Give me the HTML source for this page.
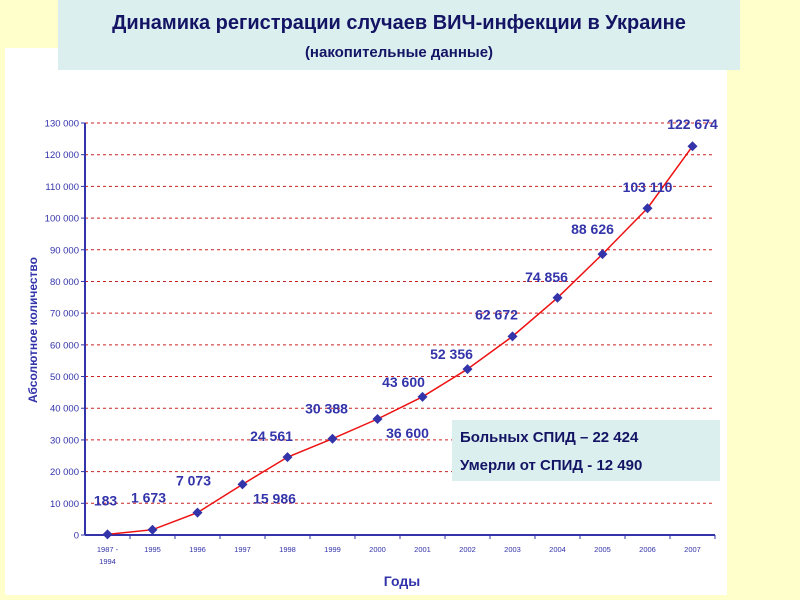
<!DOCTYPE html>
<html><head><meta charset="utf-8"><style>
body{margin:0;width:800px;height:600px;background:#ffffcc;overflow:hidden;font-family:"Liberation Sans",sans-serif;position:relative}
#panel{position:absolute;left:5px;top:48px;width:722px;height:547px;background:#fff}
#title{position:absolute;left:58px;top:0;width:682px;height:70px;background:#dcefef;text-align:center;color:#141464;font-weight:bold}
#t1{font-size:20px;position:absolute;top:12px;left:0;width:100%}
#t2{font-size:15px;position:absolute;top:44px;left:0;width:100%}
#box{position:absolute;left:452px;top:420px;width:268px;height:61px;background:#dcefef;color:#141464;font-weight:bold;font-size:15px}
svg{position:absolute;left:0;top:0}
</style></head><body>
<div id="panel"></div>
<div id="title"><div id="t1">Динамика регистрации случаев ВИЧ-инфекции в Украине</div><div id="t2">(накопительные данные)</div></div>
<svg id="chart" width="800" height="600"></svg>
<div id="box"><div style="position:absolute;left:8px;top:9px">Больных СПИД – 22 424</div><div style="position:absolute;left:8px;top:37px">Умерли от СПИД - 12 490</div></div>
<script>
const categories=["1987 -|1994","1995","1996","1997","1998","1999","2000","2001","2002","2003","2004","2005","2006","2007"];
const values=[183,1673,7073,15986,24561,30388,36600,43600,52356,62672,74856,88626,103110,122674];
const valueLabels=["183","1 673","7 073","15 986","24 561","30 388","36 600","43 600","52 356","62 672","74 856","88 626","103 110","122 674"];
const yTicks=[0,10000,20000,30000,40000,50000,60000,70000,80000,90000,100000,110000,120000,130000];
const labelOffX=[-2,-4,-4,32,-16,-6,30,-19,-16,-16,-11,-10,0,0];
const labelOffY=[-29,-27,-27,19,-16,-25,19,-10,-10,-17,-16,-20,-16,-17];
const svg=document.getElementById('chart');const NS="http://www.w3.org/2000/svg";
const X0=85,X1=715,Y0=535,Y1=123,step=(X1-X0)/categories.length;
const xs=i=>X0+step*(i+0.5);const ys=v=>Y0-(v/130000)*(Y0-Y1);
function mk(t,a,txt){const e=document.createElementNS(NS,t);for(const k in a)e.setAttribute(k,a[k]);if(txt!==undefined)e.textContent=txt;svg.appendChild(e);return e;}
yTicks.forEach(v=>{const y=ys(v);
if(v>0){const g=mk('line',{x1:X0,x2:X1,y1:y,y2:y,stroke:'#cc2222','stroke-width':1,'stroke-dasharray':'3,3'});

}
mk('line',{x1:X0-4,x2:X0,y1:y,y2:y,stroke:'#3333aa'});
const t=mk('text',{x:X0-6,y:y+3.5,'text-anchor':'end','font-size':9.5,fill:'#3333aa','font-family':'Liberation Sans'},v===0?'0':(v/1000)+' 000');

});
mk('line',{x1:X0,x2:X0,y1:Y1,y2:Y0,stroke:'#3333aa','stroke-width':2});
mk('line',{x1:X0,x2:X1,y1:Y0,y2:Y0,stroke:'#3333aa','stroke-width':2});
categories.forEach((c,i)=>{mk('line',{x1:X0+step*(i+1),x2:X0+step*(i+1),y1:Y0,y2:Y0+4,stroke:'#3333aa'});
c.split('|').forEach((p,j)=>{const t=mk('text',{x:xs(i),y:Y0+17+j*12,'text-anchor':'middle','font-size':7.5,fill:'#3333aa'},p);

});});
const line=mk('polyline',{points:values.map((v,i)=>xs(i)+','+ys(v)).join(' '),fill:'none',stroke:'#ee1111','stroke-width':1.5});


values.forEach((v,i)=>{const x=xs(i),y=ys(v);
const m=mk('polygon',{points:`${x},${y-5} ${x+5},${y} ${x},${y+5} ${x-5},${y}`,fill:'#3333aa'});


const t=mk('text',{x:x+labelOffX[i],y:y+labelOffY[i],'text-anchor':'middle','font-size':14,'font-weight':'bold',fill:'#3333aa'},valueLabels[i]);

});
const xt=mk('text',{x:402,y:586,'text-anchor':'middle','font-size':14,'font-weight':'bold',fill:'#3333aa'},'Годы');


const yt=mk('text',{x:0,y:0,transform:'translate(37,330) rotate(-90)','text-anchor':'middle','font-size':12,'font-weight':'bold',fill:'#3333aa'},'Абсолютное количество');


</script></body></html>
